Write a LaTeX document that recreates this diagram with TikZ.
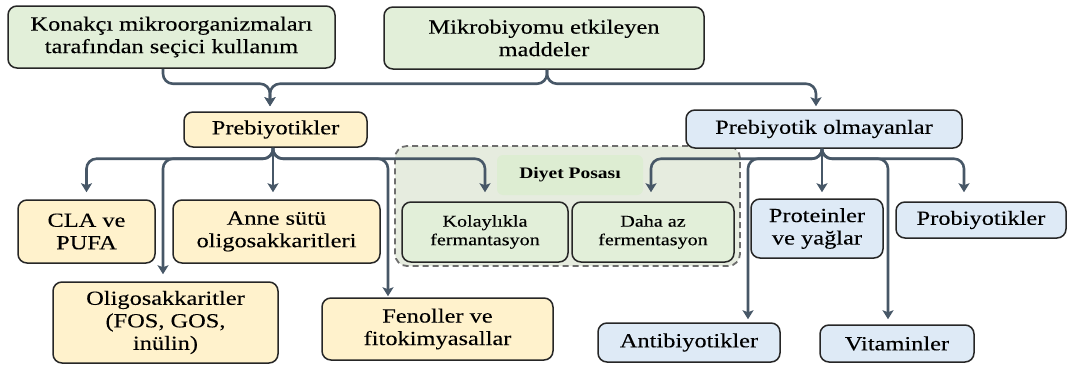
\documentclass[tikz,border=0pt]{standalone}
\usepackage{fontspec}
\usetikzlibrary{arrows.meta,calc}
\newfontfamily\mainf[FakeStretch=1.22,UprightFeatures={FakeBold=0.15}]{Liberation Serif}
\definecolor{gfill}{HTML}{E2EFD9}
\definecolor{yfill}{HTML}{FFF2CC}
\definecolor{bfill}{HTML}{DEEAF6}
\definecolor{dpfill}{HTML}{E6ECDF}
\definecolor{dptfill}{HTML}{DDEDD2}
\definecolor{edge}{HTML}{262626}
\definecolor{conncol}{HTML}{475767}
\definecolor{dashcol}{HTML}{6E6E6E}
\tikzset{
  box/.style={draw=edge, line width=1.5pt, rounded corners=9pt, align=center, inner sep=0pt,
    font=\mainf\fontsize{20}{22.5}\selectfont},
  gbox/.style={box, fill=gfill},
  ybox/.style={box, fill=yfill},
  bbox/.style={box, fill=bfill},
  smalltext/.style={font=\mainf\fontsize{16.5}{18.5}\selectfont},
  conn/.style={draw=conncol, line width=2.6pt, rounded corners=10pt,
    -{Stealth[length=9pt,width=11pt,inset=2pt]}},
}
\begin{document}
\begin{tikzpicture}[x=1pt,y=-1pt]
\useasboundingbox (0,0) rectangle (1068,367);
% dashed group
\node[draw=dashcol, dashed, dash pattern=on 6pt off 4pt, line width=1.8pt, fill=dpfill,
  rounded corners=12pt, minimum width=345pt, minimum height=120pt, inner sep=0pt] (dpbg) at (567.5,206) {};
\node[fill=dptfill, rounded corners=6pt, minimum width=146pt, minimum height=40pt, inner sep=0pt,
  font=\mainf\bfseries\fontsize{16}{18}\selectfont] (dptitle) at (570,175) {Diyet Posası};
% top nodes
\node[gbox, minimum width=327pt, minimum height=62pt] (konak) at (171.5,37) {Konakçı mikroorganizmaları\\tarafından seçici kullanım};
\node[gbox, minimum width=320pt, minimum height=62pt] (mikro) at (544,38) {Mikrobiyomu etkileyen\\maddeler};
\node[ybox, minimum width=183pt, minimum height=35pt] (pre) at (275.5,129.5) {Prebiyotikler};
\node[bbox, minimum width=276pt, minimum height=38pt] (olm) at (824,129) {Prebiyotik olmayanlar};
% prebiotic children
\node[ybox, minimum width=137pt, minimum height=63pt] (cla) at (86.5,231.5) {CLA ve\\PUFA};
\node[ybox, minimum width=207pt, minimum height=63pt] (anne) at (276.5,231.5) {Anne sütü\\oligosakkaritleri};
\node[ybox, minimum width=225pt, minimum height=81pt] (oligo) at (165.5,322.5) {Oligosakkaritler\\(FOS, GOS,\\inülin)};
\node[ybox, minimum width=231pt, minimum height=62pt] (fen) at (437.5,329) {Fenoller ve\\fitokimyasallar};
\node[gbox, smalltext, minimum width=166pt, minimum height=60pt] (kol) at (485,232) {Kolaylıkla\\fermantasyon};
\node[gbox, smalltext, minimum width=162pt, minimum height=60pt] (daha) at (653,232) {Daha az\\fermentasyon};
% non-prebiotic children
\node[bbox, minimum width=132pt, minimum height=59pt] (prot) at (817,228.5) {Proteinler\\ve yağlar};
\node[bbox, minimum width=170pt, minimum height=36pt] (prob) at (981,220) {Probiyotikler};
\node[bbox, minimum width=182pt, minimum height=39pt] (anti) at (689,342.5) {Antibiyotikler};
\node[bbox, minimum width=154pt, minimum height=37pt] (vit) at (897,343.5) {Vitaminler};
% connectors top
\draw[conn] ($(konak.south)+(-8.5,0)$) -- ++(0,15) -| ($(pre.north)+(-5.5,-5)$);
\draw[conn] ($(mikro.south)+(3,0)$) -- ++(0,14) -| ($(pre.north)+(-5.5,-5)$);
\draw[conn] ($(mikro.south)+(3,0)$) -- ++(0,14) -| ($(olm.north)+(-8,-3)$);
% prebiotic bus
\draw[conn] ($(pre.south)+(-2.5,0)$) -- ++(0,11) -| ($(cla.north)+(0,-7)$);
\draw[conn] ($(pre.south)+(-2.5,0)$) -- ($(anne.north)+(-3.5,-7)$);
\draw[conn] ($(pre.south)+(-2.5,0)$) -- ++(0,11) -| ($(oligo.north)+(-2.5,-7)$);
\draw[conn] ($(pre.south)+(-2.5,0)$) -- ++(0,11) -| ($(fen.north)+(-49.5,-1)$);
\draw[conn] ($(pre.south)+(-2.5,0)$) -- ++(0,11) -| ($(kol.north)+(0,-9)$);
% non-prebiotic bus
\draw[conn] ($(olm.south)+(-2,0)$) -- ($(prot.north)+(5,-6)$);
\draw[conn] ($(olm.south)+(-2,0)$) -- ++(0,10) -| ($(daha.north)+(-2,-9)$);
\draw[conn] ($(olm.south)+(-2,0)$) -- ++(0,10) -| ($(anti.north)+(59,-3)$);
\draw[conn] ($(olm.south)+(-2,0)$) -- ++(0,10) -| ($(vit.north)+(-9,-5)$);
\draw[conn] ($(olm.south)+(-2,0)$) -- ++(0,10) -| ($(prob.north)+(-17,-9)$);
\end{tikzpicture}
\end{document}
